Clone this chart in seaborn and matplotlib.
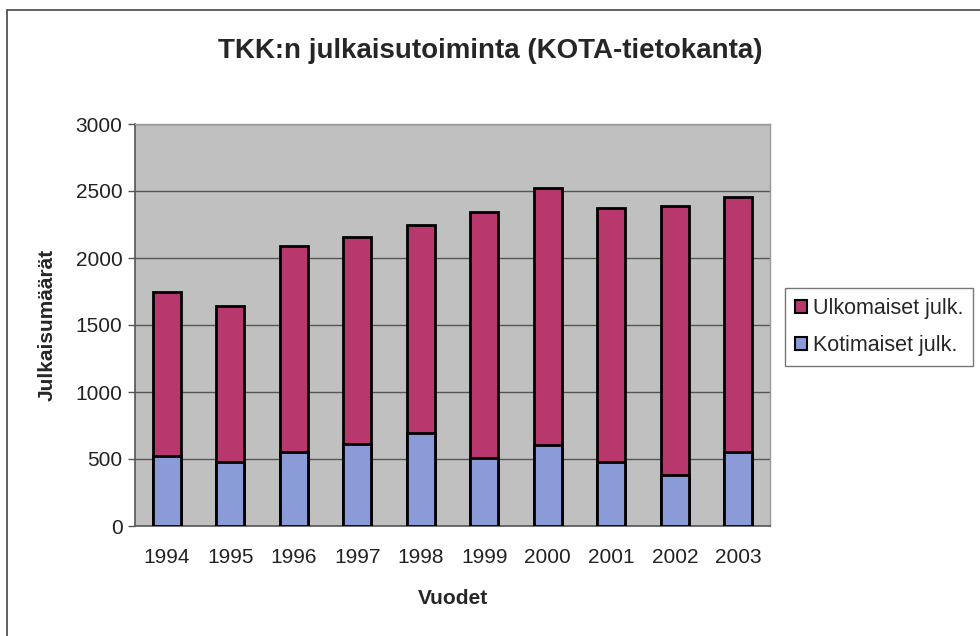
import numpy as np
import pandas as pd
import matplotlib
matplotlib.use("Agg")
import matplotlib.pyplot as plt
import seaborn as sns
from matplotlib.patches import Patch
from matplotlib.lines import Line2D

# DATA
years = ['1994', '1995', '1996', '1997', '1998', '1999', '2000', '2001', '2002', '2003']
kotimaiset = [520, 475, 550, 615, 695, 505, 605, 475, 380, 550]
ulkomaiset = [1230, 1165, 1540, 1545, 1550, 1835, 1920, 1895, 2010, 1905]

df = pd.DataFrame({'Vuosi': years, 'Kotimaiset': kotimaiset, 'Ulkomaiset': ulkomaiset})
df['Yhteensa'] = df['Kotimaiset'] + df['Ulkomaiset']

magenta = '#b8386e'
blue = '#8b9bd8'

sns.set_style('white')
plt.rcParams['font.family'] = ['Liberation Sans', 'DejaVu Sans']

fig = plt.figure(figsize=(9.8, 6.36), dpi=100)
ax = fig.add_axes([135 / 980, 1 - 526 / 636, (770 - 135) / 980, (526 - 124) / 636])
ax.set_facecolor('#c0c0c0')

# stacked bars: total first, domestic drawn over it
sns.barplot(data=df, x='Vuosi', y='Yhteensa', color=magenta, width=0.44,
            edgecolor='black', linewidth=2, saturation=1, ax=ax, zorder=3)
sns.barplot(data=df, x='Vuosi', y='Kotimaiset', color=blue, width=0.44,
            edgecolor='black', linewidth=2, saturation=1, ax=ax, zorder=4)

ax.set_xlim(-0.5, len(years) - 0.5)
ax.set_ylim(0, 3000)
ax.set_yticks(np.arange(0, 3001, 500))
ax.yaxis.grid(True, color='#555555', lw=1)
ax.set_axisbelow(True)

# ticks between categories on x axis
ax.set_xticks(np.arange(-0.5, len(years), 1), minor=True)
ax.tick_params(axis='x', which='major', length=0, pad=16, labelsize=15)
ax.tick_params(axis='x', which='minor', length=5, width=1, color='#555555', direction='out')
ax.tick_params(axis='y', length=5, width=1, color='#555555', direction='out', pad=4,
               labelsize=15, left=True)
for lab in ax.get_yticklabels() + ax.get_xticklabels():
    lab.set_color('#222222')

for side in ['left', 'bottom']:
    ax.spines[side].set_color('#555555')
    ax.spines[side].set_linewidth(1.2)
for side in ['top', 'right']:
    ax.spines[side].set_color('#999999')
    ax.spines[side].set_linewidth(1)

ax.set_xlabel('Vuodet', fontsize=15, weight='bold', labelpad=16)
ax.set_ylabel('Julkaisumäärät', fontsize=15, weight='bold', labelpad=14)

fig.text(0.5, 1 - 51 / 636, 'TKK:n julkaisutoiminta (KOTA-tietokanta)',
         ha='center', va='center', fontsize=20, weight='bold')

handles = [Patch(facecolor=magenta, edgecolor='black', lw=1.5, label='Ulkomaiset julk.'),
           Patch(facecolor=blue, edgecolor='black', lw=1.5, label='Kotimaiset julk.')]
leg = fig.legend(handles=handles, loc='upper left', bbox_to_anchor=(785 / 980, 1 - 288 / 636),
                 fontsize=15.5, frameon=True, fancybox=False, edgecolor='#555555',
                 handlelength=0.55, handleheight=0.55, handletextpad=0.3,
                 borderpad=0.45, labelspacing=0.75, borderaxespad=0)
leg.get_frame().set_linewidth(1)

# outer frame (left and top edges)
fig.add_artist(Line2D([7 / 980, 7 / 980], [0, 1 - 10 / 636], color='#555555', lw=1.3))
fig.add_artist(Line2D([7 / 980, 1], [1 - 10 / 636, 1 - 10 / 636], color='#555555', lw=1.3))

plt.savefig('out.png', dpi=100)
